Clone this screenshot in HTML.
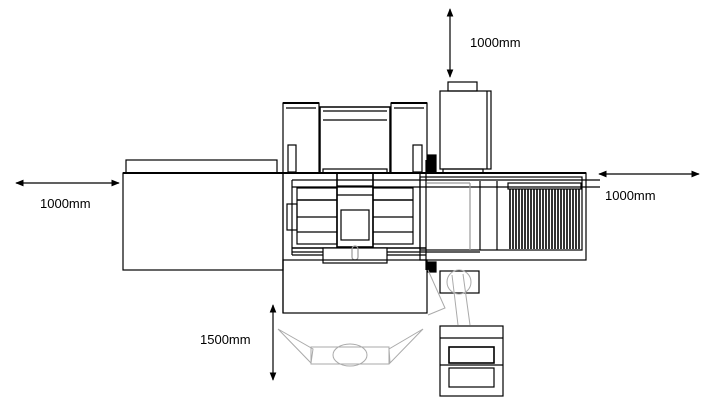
<!DOCTYPE html>
<html><head><meta charset="utf-8"><style>
body{margin:0;background:#fff;width:708px;height:415px;overflow:hidden}
svg{display:block}
text{font-family:"Liberation Sans",sans-serif;font-size:13px;fill:#000}
</style></head><body>
<svg width="708" height="415" viewBox="0 0 708 415" xmlns="http://www.w3.org/2000/svg">
<defs>
<marker id="a" viewBox="0 0 10 10" refX="9" refY="5" markerWidth="7" markerHeight="7" orient="auto-start-reverse"><path d="M0,1 L10,5 L0,9 z" fill="#000"/></marker>
</defs>
<g stroke="#000" stroke-width="1.2" fill="none">
<line x1="450" y1="9" x2="450" y2="77" marker-start="url(#a)" marker-end="url(#a)"/>
<line x1="16" y1="183" x2="119" y2="183" marker-start="url(#a)" marker-end="url(#a)"/>
<line x1="599" y1="174" x2="699" y2="174" marker-start="url(#a)" marker-end="url(#a)"/>
<line x1="273" y1="305" x2="273" y2="380" marker-start="url(#a)" marker-end="url(#a)"/>

<rect x="126" y="160" width="151" height="13"/>
<rect x="123" y="173" width="160" height="97"/>
<line x1="123" y1="173" x2="586" y2="173" stroke-width="2"/>

<rect x="283" y="103" width="36" height="70"/>
<line x1="283" y1="103" x2="319" y2="103" stroke-width="2"/>
<line x1="286" y1="108" x2="316" y2="108"/>
<rect x="288" y="145" width="8" height="27"/>
<rect x="320" y="107" width="70" height="66" stroke-width="1.5"/>
<line x1="323" y1="111" x2="387" y2="111"/>
<line x1="323" y1="120" x2="387" y2="120"/>
<rect x="323" y="169" width="64" height="4"/>
<rect x="391" y="103" width="36" height="70"/>
<line x1="391" y1="103" x2="427" y2="103" stroke-width="2"/>
<line x1="394" y1="108" x2="424" y2="108"/>
<rect x="413" y="145" width="9" height="27"/>
<rect x="428" y="155" width="8" height="18" fill="#000"/>

<rect x="448" y="82" width="29" height="9"/>
<rect x="440" y="91" width="51" height="78"/>
<line x1="487" y1="91" x2="487" y2="169"/>
<rect x="443" y="169" width="40" height="4"/>

<line x1="283" y1="173" x2="283" y2="313"/>
<line x1="292" y1="180" x2="600" y2="180"/>
<line x1="292" y1="187" x2="600" y2="187"/>
<line x1="292" y1="180" x2="292" y2="255"/>
<line x1="292" y1="248" x2="426" y2="248" stroke-width="1.6"/>
<line x1="292" y1="252" x2="480" y2="252"/>
<line x1="292" y1="255" x2="426" y2="255"/>
<rect x="287" y="204" width="10" height="26"/>
<rect x="297" y="188" width="40" height="56"/>
<line x1="297" y1="200" x2="337" y2="200" stroke-width="1.6"/>
<line x1="297" y1="217" x2="337" y2="217"/>
<line x1="297" y1="232" x2="337" y2="232"/>
<rect x="373" y="188" width="40" height="56"/>
<line x1="373" y1="200" x2="413" y2="200" stroke-width="1.6"/>
<line x1="373" y1="217" x2="413" y2="217"/>
<line x1="373" y1="232" x2="413" y2="232"/>
<rect x="337" y="173" width="36" height="74" stroke-width="1.6"/>
<line x1="337" y1="186" x2="373" y2="186"/>
<line x1="337" y1="195" x2="373" y2="195"/>
<rect x="341" y="210" width="28" height="30"/>
<rect x="323" y="248" width="64" height="15" fill="#fff"/>
<rect x="352" y="246" width="6" height="14" rx="3" stroke="#999"/>
<rect x="283" y="260" width="144" height="53"/>
<line x1="426" y1="160" x2="426" y2="270"/>

<rect x="420" y="173" width="166" height="87"/>
<rect x="420" y="177" width="162" height="73"/>
<line x1="427" y1="183" x2="470" y2="183" stroke="#999"/>
<line x1="470" y1="183" x2="470" y2="250" stroke="#999"/>
<line x1="480" y1="181" x2="480" y2="250"/>
<line x1="497" y1="181" x2="497" y2="250"/>
<rect x="508" y="183" width="73" height="6"/>
</g>
<g stroke="#000" stroke-width="1.6">
<path d="M510 189V249M513 189V249M516 189V249M519 189V249M522 189V249M525 189V249M528 189V249M531 189V249M534 189V249M537 189V249M540 189V249M543 189V249M546 189V249M549 189V249M552 189V249M555 189V249M558 189V249M561 189V249M564 189V249M567 189V249M570 189V249M573 189V249M576 189V249M579 189V249"/>
</g>
<g stroke="#000" stroke-width="1.2" fill="none">
<rect x="428" y="262" width="8" height="10" fill="#000"/>
<rect x="440" y="271" width="39" height="22"/>
<rect x="440" y="326" width="63" height="70"/>
<line x1="440" y1="338" x2="503" y2="338"/>
<line x1="440" y1="365" x2="503" y2="365"/>
<rect x="449" y="347" width="45" height="16" stroke-width="1.6"/>
<rect x="449" y="368" width="45" height="19"/>
</g>
<g stroke="#aaa" stroke-width="1" fill="none">
<circle cx="459" cy="282" r="12"/>
<path d="M452 275L458 325M463 274L470 325"/>
<path d="M428 270L445 308L428 315"/>
<path d="M278 329L313 349L311 363L278 329z"/>
<path d="M423 329L389 349L390 363L423 329z"/>
<rect x="311" y="347" width="78" height="17"/>
<ellipse cx="350" cy="355" rx="17" ry="11"/>
</g>
<text x="470" y="47">1000mm</text>
<text x="40" y="208">1000mm</text>
<text x="605" y="200">1000mm</text>
<text x="200" y="344">1500mm</text>
</svg>
</body></html>
